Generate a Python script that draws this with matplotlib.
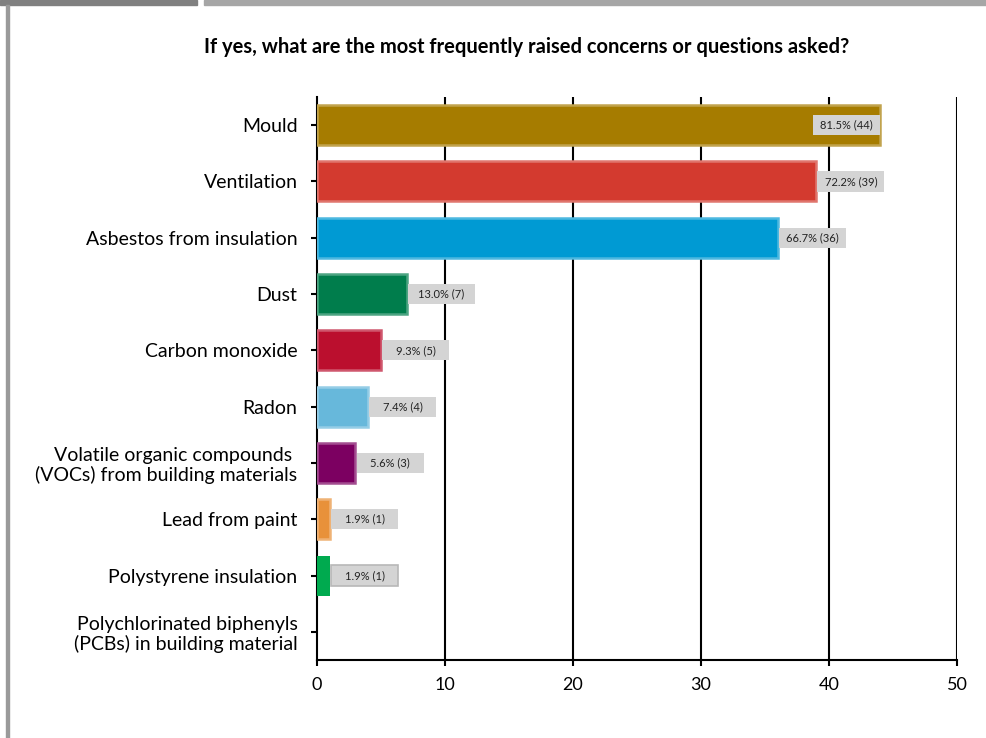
import matplotlib.pyplot as plt
from matplotlib.patches import Rectangle
import matplotlib.colors as mcolors

plt.rcParams['font.family'] = ['Lato', 'DejaVu Sans']

categories = [
    "Mould",
    "Ventilation",
    "Asbestos from insulation",
    "Dust",
    "Carbon monoxide",
    "Radon",
    "Volatile organic compounds \n(VOCs) from building materials",
    "Lead from paint",
    "Polystyrene insulation",
    "Polychlorinated biphenyls\n(PCBs) in building material",
]
counts = [44, 39, 36, 7, 5, 4, 3, 1, 1, 0]
percents = [81.5, 72.2, 66.7, 13.0, 9.3, 7.4, 5.6, 1.9, 1.9, 0.0]
colors = ["#a67c00", "#d33a2f", "#009ad3", "#007d4c", "#bb0f2e",
          "#67b8db", "#7c0061", "#e8913a", "#00aa4f", "#888888"]
x_ticks = [0, 10, 20, 30, 40, 50]

fig = plt.figure(figsize=(9.86, 7.38), dpi=100)

# frame strips along the top and left edge
fig.patches.append(Rectangle((0, 1 - 5 / 738), 197 / 986, 5 / 738,
                             transform=fig.transFigure, color="#808080", zorder=0))
fig.patches.append(Rectangle((204 / 986, 1 - 5 / 738), 782 / 986, 5 / 738,
                             transform=fig.transFigure, color="#a6a6a6", zorder=0))
fig.patches.append(Rectangle((6 / 986, 0), 3 / 986, 1 - 5 / 738,
                             transform=fig.transFigure, color="#9a9a9a", zorder=0))

ax = fig.add_axes([317 / 986, 1 - 660 / 738, 640 / 986, 563 / 738])
ypos = list(range(len(categories)))


def lighten(c, amt):
    r, g, b = mcolors.to_rgb(c)
    return (r + (1 - r) * amt, g + (1 - g) * amt, b + (1 - b) * amt)


for y, v, c in zip(ypos, counts, colors):
    if v == 0:
        continue
    if categories[y] == "Polystyrene insulation":
        ax.barh(y, v, height=0.71, color=c, zorder=3)
    else:
        ax.barh(y, v, height=0.71, color=c, edgecolor=lighten(c, 0.3),
                linewidth=1.8, zorder=3)

# value boxes: beside the bar, or inside its end when there is no room
box_w = 67 / 12.8
box_h = 0.36
for y, v, p in zip(ypos, counts, percents):
    if v == 0:
        continue
    if v + box_w > 48:
        x0 = v - box_w
    else:
        x0 = v + 0.1
    ec = "#b8b8b8" if categories[y] == "Polystyrene insulation" else "none"
    ax.add_patch(Rectangle((x0, y - box_h / 2), box_w, box_h, facecolor="#d4d4d4",
                           edgecolor=ec, linewidth=1.2, zorder=4))
    ax.text(x0 + box_w / 2, y, f"{p:.1f}% ({v})", ha="center", va="center",
            fontsize=8, color="#222222", zorder=5)

ax.set_xlim(0, 50)
ax.set_ylim(len(categories) - 0.5, -0.5)
ax.set_xticks(x_ticks)
ax.set_xticklabels([str(t) for t in x_ticks], fontsize=13)
ax.set_yticks(ypos)
ax.set_yticklabels(categories, fontsize=14, linespacing=1.15)
ax.tick_params(axis="y", length=4.5, width=1.5, pad=9.5)
ax.tick_params(axis="x", length=4, width=1.5, pad=8)

for t in x_ticks[1:]:
    ax.axvline(t, color="black", linewidth=1.5, zorder=2)
for s in ["top", "right"]:
    ax.spines[s].set_visible(False)
ax.spines["left"].set_linewidth(1.5)
ax.spines["bottom"].set_linewidth(1.5)

fig.text(527 / 986, 1 - 47 / 738,
         "If yes, what are the most frequently raised concerns or questions asked?",
         ha="center", va="center", fontsize=14.5, fontweight="bold")

fig.savefig("out.png", dpi=100)
